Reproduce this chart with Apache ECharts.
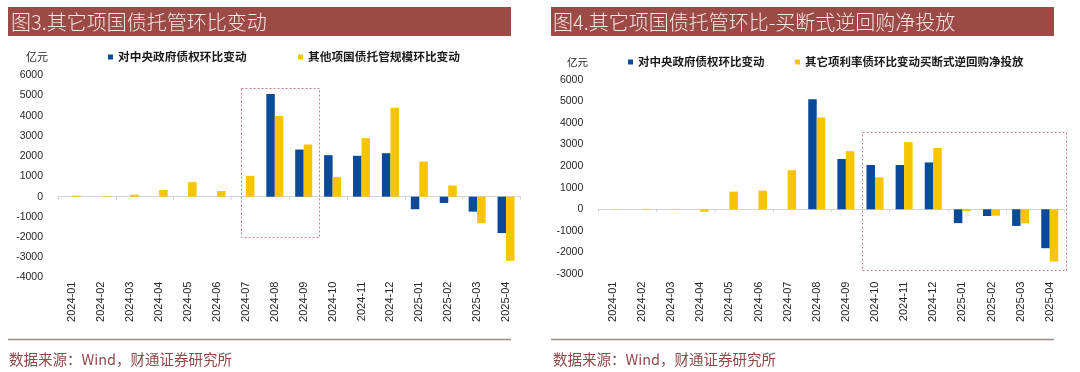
<!DOCTYPE html>
<html><head><meta charset="utf-8">
<script src="https://cdn.jsdelivr.net/npm/echarts@6/dist/echarts.min.js"></script>
<style>html,body{margin:0;padding:0;background:#fff;overflow:hidden}#c{width:1080px;height:372px}</style>
</head><body><div id="c"></div>
<script>
// ---------- data ----------
const categories = ['2024-01','2024-02','2024-03','2024-04','2024-05','2024-06','2024-07','2024-08','2024-09','2024-10','2024-11','2024-12','2025-01','2025-02','2025-03','2025-04'];
const leftTitle = '图3.其它项国债托管环比变动';
const rightTitle = '图4.其它项国债托管环比-买断式逆回购净投放';
const unitLabel = '亿元';
const sourceText = '数据来源：Wind，财通证券研究所';
const leftBlueName = '对中央政府债权环比变动';
const leftYellowName = '其他项国债托管规模环比变动';
const rightBlueName = '对中央政府债权环比变动 ';
const rightYellowName = '其它项利率债环比变动买断式逆回购净投放';
const leftBlue   = [0,0,0,0,0,0,0,5080,2330,2050,2020,2150,-620,-310,-740,-1800];
const leftYellow = [50,30,100,330,720,280,1030,3990,2580,970,2890,4390,1730,550,-1310,-3170];
const rightBlue   = [0,0,0,0,0,0,0,5100,2330,2050,2050,2170,-640,-310,-770,-1800];
const rightYellow = [10,20,20,-110,820,860,1810,4250,2690,1480,3110,2840,-80,-300,-650,-2420];
const leftYAxis = {min: -4000, max: 6000, interval: 1000};
const rightYAxis = {min: -3000, max: 6000, interval: 1000};
// highlighted regions (category index + fraction of a category, value range)
const leftBox  = {x0: 6, dx0: -0.17, x1: 8, dx1: 0.53, yTop: 5380, yBottom: -1980};
const rightBox = {x0: 9, dx0: -0.45, x1: 15, dx1: 0.55, yTop: 3565, yBottom: -2815};

// ---------- styles ----------
const BLUE = '#0B4A9A', YELLOW = '#F6C500', BAR = '#9B4A46';
const numFont = '"Liberation Sans", Arial, sans-serif';
const cjkFont = '"Noto Sans CJK SC", sans-serif';

const chart = echarts.init(document.getElementById('c'), null, {renderer: 'canvas'});

function xLineAxis(grid) {
  return {type: 'category', gridIndex: grid, data: categories, position: 'top',
    axisLine: {onZero: true, lineStyle: {color: '#D4D4D4', width: 1}},
    axisTick: {show: true, inside: true, length: 3, lineStyle: {color: '#D4D4D4'}},
    axisLabel: {show: false}, splitLine: {show: false}};
}
function xLabelAxis(grid, margin) {
  return {type: 'category', gridIndex: grid, data: categories, position: 'bottom',
    axisLine: {show: false, onZero: false}, axisTick: {show: false}, splitLine: {show: false},
    axisLabel: {rotate: 90, margin: margin, fontSize: 11, color: '#262626', fontFamily: numFont, interval: 0}};
}
function yAxis(grid, cfg) {
  return {type: 'value', gridIndex: grid, min: cfg.min, max: cfg.max, interval: cfg.interval,
    axisLine: {show: false}, axisTick: {show: false}, splitLine: {show: false},
    axisLabel: {margin: 15, fontSize: 10.5, color: '#262626', fontFamily: numFont,
      formatter: function (v) { return String(v); }}};
}
function bar(name, data, xi, yi, color) {
  return {type: 'bar', name: name, data: data, xAxisIndex: xi, yAxisIndex: yi,
    barWidth: 8.5, barGap: '0%', itemStyle: {color: color}, silent: true, animation: false};
}
function legend(name, left, top, fs) {
  return {data: [name], left: left, top: top, icon: 'rect', itemWidth: 5, itemHeight: 5,
    selectedMode: false, padding: 0,
    textStyle: {fontSize: fs, fontWeight: 'bold', color: '#1a1a1a', fontFamily: cjkFont, lineHeight: 14}};
}

const baseGraphics = [
  {id: 'tbL', type: 'rect', shape: {x: 8, y: 7, width: 503, height: 29}, style: {fill: BAR}},
  {id: 'tbR', type: 'rect', shape: {x: 551, y: 7, width: 503, height: 29}, style: {fill: BAR}},
  {id: 'ttL', type: 'text', x: 11, y: 22, style: {text: leftTitle, fill: '#F6E6E4', font: '300 20px ' + cjkFont, textVerticalAlign: 'middle'}},
  {id: 'ttR', type: 'text', x: 553, y: 22, style: {text: rightTitle, fill: '#F6E6E4', font: '300 20px ' + cjkFont, textVerticalAlign: 'middle'}},
  {id: 'unL', type: 'text', x: 26, y: 57, style: {text: unitLabel, fill: '#262626', font: '11px ' + cjkFont, textVerticalAlign: 'middle'}},
  {id: 'unR', type: 'text', x: 567, y: 62, style: {text: unitLabel, fill: '#262626', font: '10.5px ' + cjkFont, textVerticalAlign: 'middle'}},
  {id: 'flL', type: 'line', shape: {x1: 8, y1: 339.5, x2: 511, y2: 339.5}, style: {stroke: '#A08A88', lineWidth: 1.5}},
  {id: 'flR', type: 'line', shape: {x1: 551, y1: 339.5, x2: 1054, y2: 339.5}, style: {stroke: '#A08A88', lineWidth: 1.5}},
  {id: 'srL', type: 'text', x: 9, y: 359, style: {text: sourceText, fill: '#8E4848', font: '14.5px ' + cjkFont, textVerticalAlign: 'middle'}},
  {id: 'srR', type: 'text', x: 553, y: 359, style: {text: sourceText, fill: '#8E4848', font: '14.5px ' + cjkFont, textVerticalAlign: 'middle'}}
];

const option = {
  animation: false,
  backgroundColor: '#ffffff',
  grid: [
    {left: 58, top: 75.3, width: 462.5, height: 202.3},
    {left: 598.3, top: 79.7, width: 466, height: 194.4}
  ],
  xAxis: [xLineAxis(0), xLabelAxis(0, 4), xLineAxis(1), xLabelAxis(1, 7.5)],
  yAxis: [yAxis(0, leftYAxis), yAxis(1, rightYAxis)],
  legend: [
    legend(leftBlueName, 108, 50, 11.7),
    legend(leftYellowName, 298, 50, 11.7),
    legend(rightBlueName, 628, 55, 11.5),
    legend(rightYellowName, 795, 55, 11.5)
  ],
  series: [
    bar(leftBlueName, leftBlue, 0, 0, BLUE),
    bar(leftYellowName, leftYellow, 0, 0, YELLOW),
    bar(rightBlueName, rightBlue, 2, 1, BLUE),
    bar(rightYellowName, rightYellow, 2, 1, YELLOW)
  ],
  graphic: baseGraphics
};
chart.setOption(option);

function boxGraphic(id, box, xi, yi) {
  const f = {xAxisIndex: xi, yAxisIndex: yi};
  const p0 = chart.convertToPixel(f, [0, 0]);
  const p1 = chart.convertToPixel(f, [1, 0]);
  const step = p1[0] - p0[0];
  const a = chart.convertToPixel(f, [box.x0, box.yTop]);
  const b = chart.convertToPixel(f, [box.x1, box.yBottom]);
  const xa = a[0] + box.dx0 * step, xb = b[0] + box.dx1 * step;
  return {id: id, type: 'rect', z: 100,
    shape: {x: Math.round(xa) + 0.5, y: Math.round(a[1]) + 0.5, width: Math.round(xb - xa), height: Math.round(b[1] - a[1])},
    style: {fill: 'none', stroke: '#C4808E', lineWidth: 1, lineDash: [2, 2]}};
}
chart.setOption({graphic: baseGraphics.concat([
  boxGraphic('boxL', leftBox, 0, 0),
  boxGraphic('boxR', rightBox, 2, 1)
])});
</script>
</body></html>
